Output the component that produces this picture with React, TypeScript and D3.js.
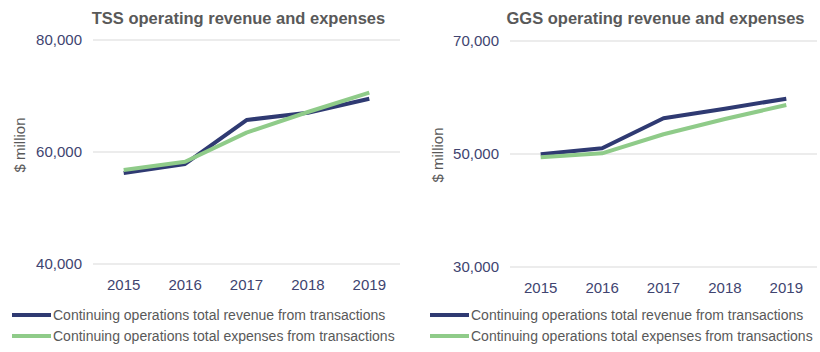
import React from 'react';
import * as d3 from 'd3';

const years = ['2015', '2016', '2017', '2018', '2019'];

const tssRevenue = [56250, 57860, 65710, 67020, 69520];
const tssExpenses = [56790, 58270, 63450, 67140, 70590];
const tssTicks = [40000, 60000, 80000];

const ggsRevenue = [49950, 51010, 56320, 58020, 59790];
const ggsExpenses = [49420, 50120, 53490, 56190, 58670];
const ggsTicks = [30000, 50000, 70000];

const seriesNames = [
  'Continuing operations total revenue from transactions',
  'Continuing operations total expenses from transactions',
];
const colors = ['#2f3a72', '#8fcb89'];

const font = 'Liberation Sans, Arial, sans-serif';
const fmt = d3.format(',');

type PanelProps = {
  title: string;
  revenue: number[];
  expenses: number[];
  ticks: number[];
  plotLeft: number;
  plotRight: number;
  top: number;
  bottom: number;
  yTitleX: number;
  yTitleY: number;
  legendX: number;
};

const Panel = ({ title, revenue, expenses, ticks, plotLeft, plotRight, top, bottom, yTitleX, yTitleY, legendX }: PanelProps) => {
  const x = d3.scaleBand().domain(years).range([plotLeft, plotRight]);
  const y = d3.scaleLinear().domain([ticks[0], ticks[ticks.length - 1]]).range([bottom, top]);
  const line = d3.line<number>()
    .x((_, i) => (x(years[i]) as number) + x.bandwidth() / 2)
    .y(d => y(d));

  return (
    <g>
      <text x={(plotLeft + plotRight) / 2 - 8} y={24} textAnchor="middle" fontFamily={font}
        fontWeight="bold" fontSize={16.5} fill="#595959">{title}</text>
      {ticks.map(t => (
        <g key={t}>
          <line x1={plotLeft} x2={plotRight} y1={y(t)} y2={y(t)} stroke="#d9d9d9" strokeWidth={1} />
          <text x={plotLeft - 11} y={y(t)} dy="0.35em" textAnchor="end" fontFamily={font}
            fontSize={15} fill="#404470">{fmt(t)}</text>
        </g>
      ))}
      {years.map(yr => (
        <text key={yr} x={(x(yr) as number) + x.bandwidth() / 2} y={bottom + 21} dy="0.35em"
          textAnchor="middle" fontFamily={font} fontSize={15} fill="#404470">{yr}</text>
      ))}
      <text transform={`translate(${yTitleX},${yTitleY}) rotate(-90)`} textAnchor="middle"
        dy="0.35em" fontFamily={font} fontSize={15} fill="#595959">$ million</text>
      <path d={line(revenue) || ''} fill="none" stroke={colors[0]} strokeWidth={4} strokeLinejoin="round" />
      <path d={line(expenses) || ''} fill="none" stroke={colors[1]} strokeWidth={4} strokeLinejoin="round" />
      {seriesNames.map((name, i) => (
        <g key={name} transform={`translate(${legendX},${315 + i * 21})`}>
          <line x1={0} x2={39} y1={0} y2={0} stroke={colors[i]} strokeWidth={4} />
          <text x={41} y={0} dy="0.35em" fontFamily={font} fontSize={14} fill="#595959">{name}</text>
        </g>
      ))}
    </g>
  );
};

export default function App() {
  return (
    <svg width={820} height={352} style={{ position: 'absolute', left: 0, top: 0, background: '#fff' }}>
      <rect width={820} height={352} fill="#fff" />
      <Panel title="TSS operating revenue and expenses" revenue={tssRevenue} expenses={tssExpenses}
        ticks={tssTicks} plotLeft={93} plotRight={400} top={40} bottom={264} yTitleX={20} yTitleY={145} legendX={12} />
      <Panel title="GGS operating revenue and expenses" revenue={ggsRevenue} expenses={ggsExpenses}
        ticks={ggsTicks} plotLeft={510} plotRight={817} top={41} bottom={267} yTitleX={438} yTitleY={155} legendX={430} />
    </svg>
  );
}
